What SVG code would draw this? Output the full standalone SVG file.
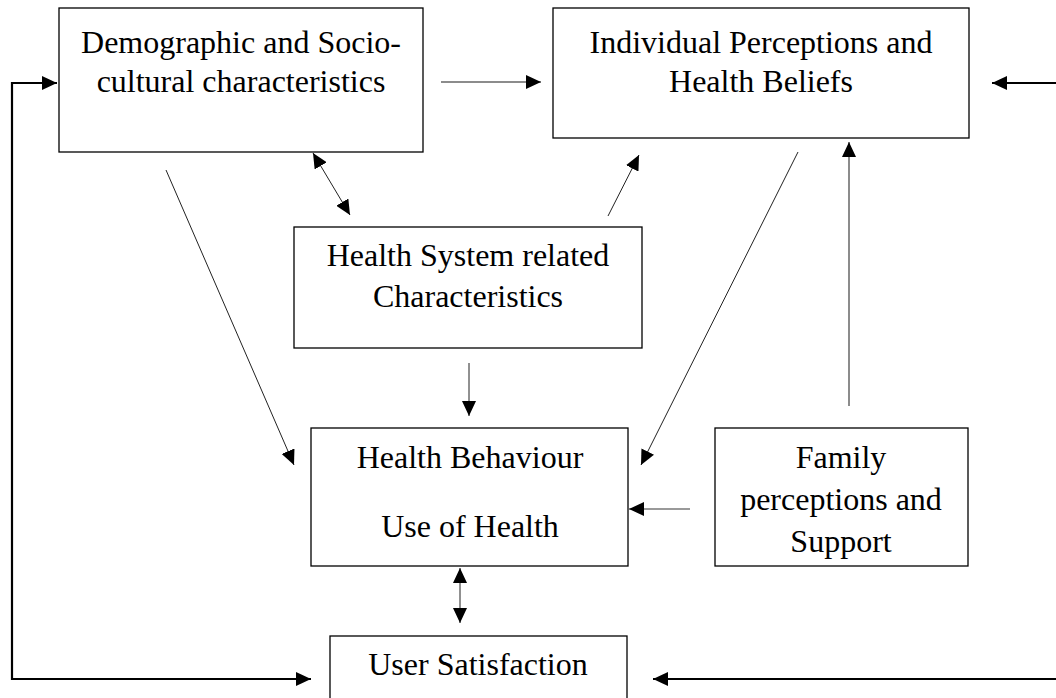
<svg xmlns="http://www.w3.org/2000/svg" width="1056" height="698" viewBox="0 0 1056 698">
  <style>
    .box { fill: #fff; stroke: #000; stroke-width: 1.3; }
    .lbl { font-family: "Liberation Serif", "Times New Roman", serif; font-size: 32px; fill: #000; text-anchor: middle; }
    .thin { fill: none; stroke: #222; stroke-width: 1; }
    .loop { fill: none; stroke: #000; stroke-width: 2.2; }
    .grey { fill: none; stroke: #999; stroke-width: 2; }
    .greyd { fill: none; stroke: #666; stroke-width: 1.5; }
  </style>
  <defs>
    <marker id="head" markerUnits="userSpaceOnUse" markerWidth="16" markerHeight="14" refX="15" refY="7" orient="auto-start-reverse">
      <path d="M0,0 L15,7 L0,14 Z" fill="#000"/>
    </marker>
  </defs>

  <g id="connectors">
    <!-- outer feedback loops -->
    <path class="loop" d="M311,679 H12 V83 H57" marker-start="url(#head)" marker-end="url(#head)"/>
    <path class="loop" d="M992,83 H1064 V679 H653" marker-start="url(#head)" marker-end="url(#head)"/>
    <!-- demographic to perceptions -->
    <path class="greyd" d="M441,82 H541" marker-end="url(#head)"/>
    <!-- demographic <-> health system -->
    <path class="thin" d="M313,153 L350,215" marker-start="url(#head)" marker-end="url(#head)"/>
    <!-- demographic to behaviour -->
    <path class="thin" d="M166,170 L294,465" marker-end="url(#head)"/>
    <!-- health system to perceptions -->
    <path class="thin" d="M608,216 L639,155" marker-end="url(#head)"/>
    <!-- perceptions to behaviour -->
    <path class="thin" d="M798,152 L641,465" marker-end="url(#head)"/>
    <!-- health system to behaviour -->
    <path class="thin" d="M469,363 V416" marker-end="url(#head)"/>
    <!-- family to perceptions -->
    <path class="greyd" d="M849,406 V142" marker-end="url(#head)"/>
    <!-- family to behaviour -->
    <path class="grey" d="M690,509 H629" marker-end="url(#head)"/>
    <!-- behaviour <-> satisfaction -->
    <path class="thin" d="M460,568 V623" marker-start="url(#head)" marker-end="url(#head)"/>
  </g>

  <g id="demographic">
    <rect class="box" x="59" y="8" width="364" height="144"/>
    <text class="lbl" x="241" y="53">Demographic and Socio-</text>
    <text class="lbl" x="241" y="92">cultural characteristics</text>
  </g>

  <g id="perceptions">
    <rect class="box" x="553" y="8" width="416" height="130"/>
    <text class="lbl" x="761" y="53">Individual Perceptions and</text>
    <text class="lbl" x="761" y="92">Health Beliefs</text>
  </g>

  <g id="health-system">
    <rect class="box" x="294" y="227" width="348" height="121"/>
    <text class="lbl" x="468" y="266">Health System related</text>
    <text class="lbl" x="468" y="307">Characteristics</text>
  </g>

  <g id="behaviour">
    <rect class="box" x="311" y="428" width="317" height="138"/>
    <text class="lbl" x="470" y="468">Health Behaviour</text>
    <text class="lbl" x="470" y="537">Use of Health</text>
  </g>

  <g id="family">
    <rect class="box" x="715" y="428" width="253" height="138"/>
    <text class="lbl" x="841" y="468">Family</text>
    <text class="lbl" x="841" y="510">perceptions and</text>
    <text class="lbl" x="841" y="552">Support</text>
  </g>

  <g id="satisfaction">
    <rect class="box" x="330" y="636" width="297" height="80"/>
    <text class="lbl" x="478" y="675">User Satisfaction</text>
  </g>
</svg>
